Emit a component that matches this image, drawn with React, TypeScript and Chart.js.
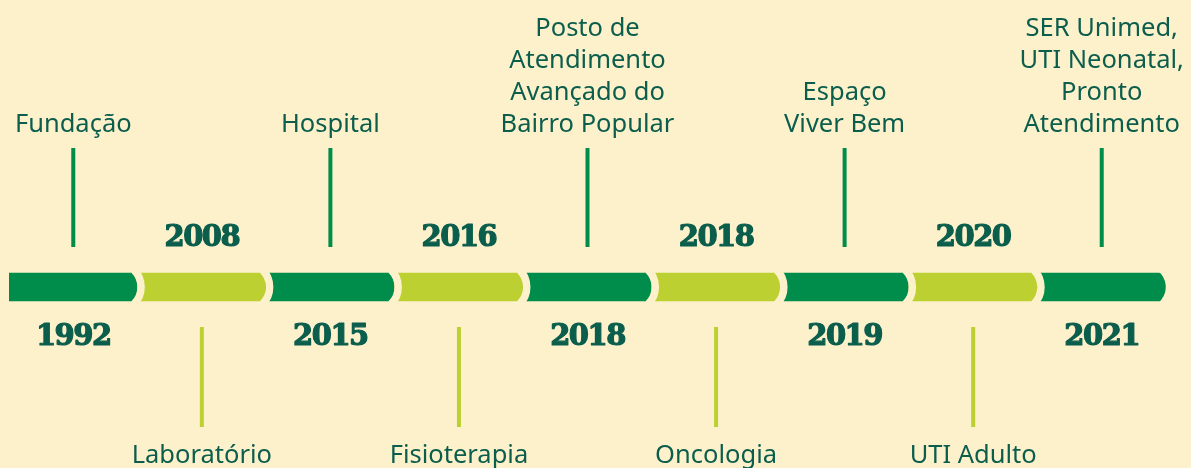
import React, { useEffect, useRef } from 'react';
import { Chart, registerables } from 'chart.js';

Chart.register(...registerables);

// ---- data ----
const years: string[] = ['1992', '2008', '2015', '2016', '2018', '2018', '2019', '2020', '2021'];
const events: string[][] = [
  ['Fundação'],
  ['Laboratório'],
  ['Hospital'],
  ['Fisioterapia'],
  ['Posto de', 'Atendimento', 'Avançado do', 'Bairro Popular'],
  ['Oncologia'],
  ['Espaço', 'Viver Bem'],
  ['UTI Adulto'],
  ['SER Unimed,', 'UTI Neonatal,', 'Pronto', 'Atendimento'],
];
const segStart: number[] = [0, 1, 2, 3, 4, 5, 6, 7, 8];
const segEnd: number[] = [1, 2, 3, 4, 5, 6, 7, 8, 9];

// ---- styles / layout ----
const W = 1191;
const H = 468;
const BG = '#FDF1CC';
const DARK = '#008C4A';
const LIME = '#BCD032';
const TEXT = '#0B5D4C';
const BAR_Y = 287;
const BAR_T = 28;
const LABEL_FONT = '25.5px "Noto Sans", sans-serif';
const YEAR_FONT = 'bold 29px "DejaVu Serif", serif';
const LINE_H = 32;

const timelinePlugin = {
  id: 'timeline',
  beforeDraw(chart: any) {
    const ctx = chart.ctx;
    ctx.save();
    ctx.fillStyle = BG;
    ctx.fillRect(0, 0, chart.width, chart.height);
    ctx.restore();
  },
  afterDatasetsDraw(chart: any) {
    const ctx = chart.ctx;
    const xs = chart.scales.x;
    const ys = chart.scales.y;
    const yc = ys.getPixelForValue(BAR_Y);
    const half = BAR_T / 2;
    const bulge = 4.5;
    const R = (half * half + bulge * bulge) / (2 * bulge);
    ctx.save();
    // cream gaps between segments
    for (let b = 1; b <= segEnd.length; b++) {
      const bx = xs.getPixelForValue(segEnd[b - 1]);
      const cx = bx + 3.5 - R;
      if (b < segEnd.length) {
        const th = Math.asin(Math.min(0.99, (half + 3) / R));
        ctx.beginPath();
        ctx.arc(cx, yc, R, -th, th);
        ctx.strokeStyle = BG;
        ctx.lineWidth = 7.5;
        ctx.lineCap = 'butt';
        ctx.stroke();
      } else {
        const r = R - 3.75;
        const th = Math.asin(Math.min(0.99, (half + 2) / r));
        ctx.beginPath();
        ctx.arc(cx, yc, r, -th, th);
        ctx.lineTo(chart.width + 5, yc + half + 2);
        ctx.lineTo(chart.width + 5, yc - half - 2);
        ctx.closePath();
        ctx.fillStyle = BG;
        ctx.fill();
      }
    }
    // connectors and labels
    ctx.textAlign = 'center';
    ctx.textBaseline = 'alphabetic';
    for (let i = 0; i < years.length; i++) {
      const x = xs.getPixelForValue((segStart[i] + segEnd[i]) / 2);
      const up = i % 2 === 0;
      ctx.fillStyle = up ? DARK : LIME;
      if (up) {
        ctx.fillRect(x - 2, ys.getPixelForValue(148), 4, ys.getPixelForValue(247) - ys.getPixelForValue(148));
      } else {
        ctx.fillRect(x - 2, ys.getPixelForValue(327), 4, ys.getPixelForValue(427) - ys.getPixelForValue(327));
      }
      // event label
      ctx.fillStyle = TEXT;
      ctx.font = LABEL_FONT;
      const lines = events[i];
      if (up) {
        const last = ys.getPixelForValue(132);
        lines.forEach((t, k) => {
          ctx.fillText(t, x, last - (lines.length - 1 - k) * LINE_H);
        });
      } else {
        const first = ys.getPixelForValue(463);
        lines.forEach((t, k) => {
          ctx.fillText(t, x, first + k * LINE_H);
        });
      }
      // year
      ctx.font = YEAR_FONT;
      try { (ctx as any).letterSpacing = '-1.5px'; } catch (e) {}
      const yy = ys.getPixelForValue(up ? 345 : 246);
      ctx.strokeStyle = TEXT;
      ctx.lineWidth = 1.2;
      ctx.lineJoin = 'round';
      ctx.fillText(years[i], x, yy);
      ctx.strokeText(years[i], x, yy);
      try { (ctx as any).letterSpacing = '0px'; } catch (e) {}
    }
    ctx.restore();
  },
};

export default function App() {
  const ref = useRef<HTMLCanvasElement | null>(null);
  useEffect(() => {
    document.body.style.margin = '0';
    document.body.style.background = BG;
    if (!ref.current) return;
    const colors = segStart.map((_, i) => (i % 2 === 0 ? DARK : LIME));
    const chart = new Chart(ref.current, {
      type: 'bar',
      data: {
        datasets: [
          {
            data: segStart.map((s, i) => ({ x: [s, segEnd[i]], y: BAR_Y })) as any,
            backgroundColor: colors,
            borderWidth: 0,
            barThickness: BAR_T,
            grouped: false,
          } as any,
        ],
      },
      options: {
        indexAxis: 'y',
        responsive: false,
        animation: false,
        layout: { padding: { left: 9, right: 25, top: 0, bottom: 0 } },
        scales: {
          x: { type: 'linear', min: 0, max: 9, display: false, offset: false },
          y: { type: 'linear', min: 0, max: H, reverse: true, display: false, offset: false },
        },
        plugins: { legend: { display: false }, tooltip: { enabled: false } },
      },
      plugins: [timelinePlugin],
    });
    return () => chart.destroy();
  }, []);
  return <canvas ref={ref} width={W} height={H} style={{ display: 'block' }} />;
}
